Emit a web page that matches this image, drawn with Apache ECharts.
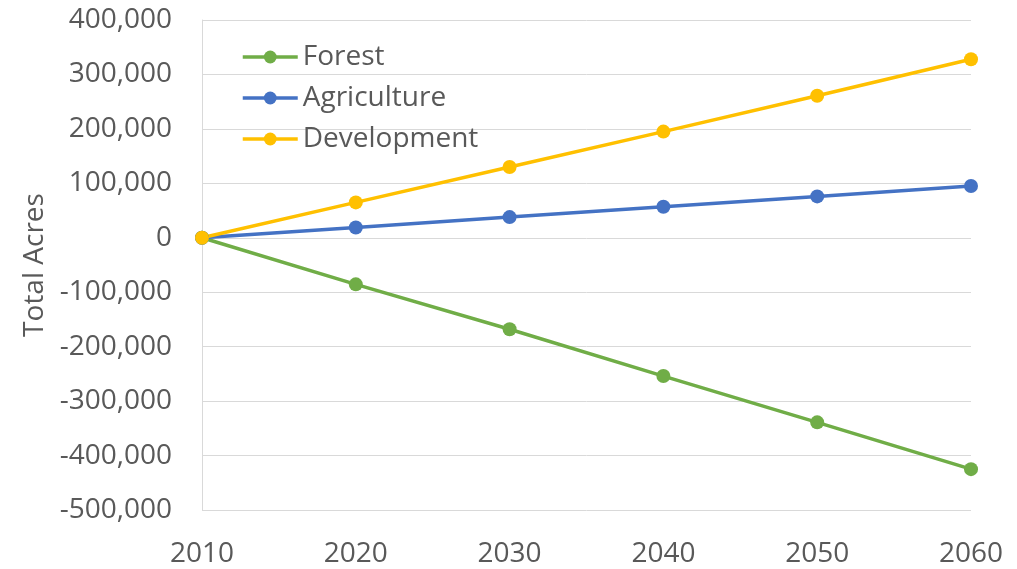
<!DOCTYPE html>
<html>
<head>
<meta charset="utf-8">
<script src="https://cdn.jsdelivr.net/npm/echarts@6/dist/echarts.min.js"></script>
<style>
  html, body { margin: 0; padding: 0; background: #fff; }
  #chart { width: 1017px; height: 569px; }
</style>
</head>
<body>
<div id="chart"></div>
<script>
// Change in total acres by land use, 2010 baseline
const years = ['2010', '2020', '2030', '2040', '2050', '2060'];
const forest = [0, -85500, -168000, -254000, -339000, -425000];
const agriculture = [0, 19000, 38000, 57000, 76000, 95000];
const development = [0, 65000, 130000, 195000, 261000, 328000];

const FONT = '"Open Sans", sans-serif';
const TEXT = '#595959';
const GRIDLINE = '#d9d9d9';

const chart = echarts.init(document.getElementById('chart'));

const lineSeries = (name, data, color) => ({
  name, data, type: 'line',
  symbol: 'circle', symbolSize: 14,
  lineStyle: { color, width: 3.5 },
  itemStyle: { color },
  animation: false,
});

chart.setOption({
  textStyle: { fontFamily: FONT },
  grid: { left: 202, right: 46, top: 20, bottom: 59 },
  legend: {
    orient: 'vertical', left: 241, top: 43, padding: 0,
    itemWidth: 55, itemHeight: 16, itemGap: 13,
    lineStyle: { width: 3.5 },
    textStyle: { color: TEXT, fontSize: 28, fontFamily: FONT },
    data: ['Forest', 'Agriculture', 'Development'],
  },
  xAxis: {
    type: 'category', data: years, boundaryGap: false,
    axisLine: { show: false, onZero: false },
    axisTick: { show: false },
    axisLabel: { color: TEXT, fontSize: 28, fontFamily: FONT, margin: 30 },
    splitLine: { show: false },
  },
  yAxis: {
    type: 'value', min: -500000, max: 400000, interval: 100000,
    name: 'Total Acres', nameLocation: 'middle', nameGap: 152,
    nameTextStyle: { color: TEXT, fontSize: 28, fontFamily: FONT },
    axisLine: { show: true, lineStyle: { color: GRIDLINE, width: 1 } },
    axisTick: { show: false },
    axisLabel: {
      color: TEXT, fontSize: 28, fontFamily: FONT, margin: 30,
      formatter: v => v.toLocaleString('en-US'),
    },
    splitLine: { lineStyle: { color: GRIDLINE, width: 1 } },
  },
  series: [
    lineSeries('Forest', forest, '#70ad47'),
    lineSeries('Agriculture', agriculture, '#4472c4'),
    lineSeries('Development', development, '#ffc000'),
  ],
});
</script>
</body>
</html>
